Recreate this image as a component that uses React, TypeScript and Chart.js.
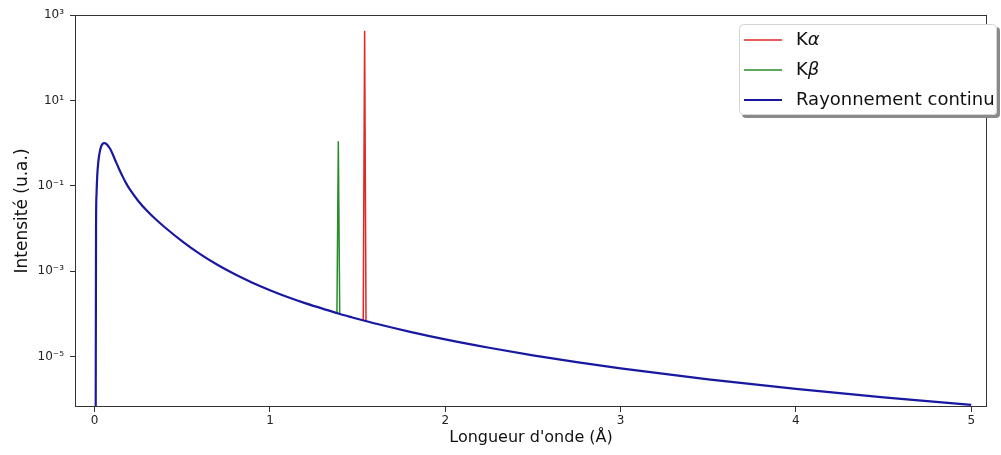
import React, { useEffect, useRef } from "react";
import { Chart, registerables } from "chart.js";

Chart.register(...registerables);

// ---- Data ----
const continuumWavelengths = [
  0.006, 0.008, 0.011, 0.015, 0.02, 0.025, 0.03, 0.035, 0.04, 0.045,
  0.05, 0.055, 0.06, 0.065, 0.07, 0.08, 0.09, 0.1, 0.12, 0.14,
  0.16, 0.18, 0.2, 0.25, 0.3, 0.35, 0.4, 0.5, 0.6, 0.7,
  0.8, 0.9, 1.0, 1.1, 1.2, 1.3, 1.39, 1.47, 1.54, 1.63,
  1.8, 2.0, 2.25, 2.5, 2.75, 3.0, 3.5, 4.0, 4.5, 5.0,
];
const continuumIntensity = [
  3e-7, 0.0101, 0.0668, 0.178, 0.329, 0.492, 0.648, 0.783, 0.886, 0.95,
  0.987, 1.0, 0.99, 0.967, 0.929, 0.829, 0.714, 0.585, 0.376, 0.244,
  0.164, 0.114, 0.0833, 0.0436, 0.0256, 0.0162, 0.0107, 0.005, 0.00254, 0.00141,
  8.46e-4, 5.38e-4, 3.59e-4, 2.49e-4, 1.79e-4, 1.33e-4, 1.02e-4, 8.26e-5, 6.92e-5, 5.56e-5,
  3.8e-5, 2.53e-5, 1.61e-5, 1.07e-5, 7.42e-6, 5.31e-6, 2.93e-6, 1.75e-6, 1.11e-6, 7.43e-7,
];
const kAlphaWavelengths = [1.532, 1.54, 1.548];
const kAlphaIntensity = [7.0e-5, 430, 6.85e-5];
const kBetaWavelengths = [1.382, 1.39, 1.398];
const kBetaIntensity = [1.04e-4, 1.1, 1.0e-4];

const seriesNames = ["Kα", "Kβ", "Rayonnement continu"];
const seriesColors = ["#e32626", "#2a8c2a", "#1818a0"];

const xTickValues = [0, 1, 2, 3, 4, 5];
const yTickValues = [1e-5, 1e-3, 1e-1, 1e1, 1e3];
const yTickLabels = ["10⁻⁵", "10⁻³", "10⁻¹", "10¹", "10³"];

const xTitle = "Longueur d'onde (Å)";
const yTitle = "Intensité (u.a.)";

const FONT = "'DejaVu Sans', sans-serif";

const toPoints = (xs: number[], ys: number[]) => xs.map((x, i) => ({ x, y: ys[i] }));

const frameLegendPlugin = {
  id: "frameLegend",
  afterDraw(chart: any) {
    const { ctx, chartArea: a } = chart;
    ctx.save();
    // full frame (spines)
    ctx.strokeStyle = "#333";
    ctx.lineWidth = 1;
    ctx.strokeRect(
      Math.round(a.left) + 0.5,
      Math.round(a.top) + 0.5,
      Math.round(a.right - a.left) - 1,
      Math.round(a.bottom - a.top) - 1
    );

    // legend box with shadow
    const bx = 739, by = 24, bw = 258, bh = 91, r = 4;
    const rr = (x: number, y: number, w: number, h: number) => {
      ctx.beginPath();
      if (ctx.roundRect) ctx.roundRect(x, y, w, h, r);
      else ctx.rect(x, y, w, h);
    };
    ctx.fillStyle = "#8a8a8a";
    rr(bx + 3, by + 3, bw, bh);
    ctx.fill();
    ctx.fillStyle = "#ffffff";
    rr(bx, by, bw, bh);
    ctx.fill();
    ctx.strokeStyle = "#d4d4d4";
    rr(bx + 0.5, by + 0.5, bw - 1, bh - 1);
    ctx.stroke();

    const rowsY = [40, 70, 100];
    ctx.textBaseline = "middle";
    ctx.textAlign = "left";
    seriesNames.forEach((name, i) => {
      const y = rowsY[i];
      ctx.strokeStyle = seriesColors[i];
      ctx.lineWidth = i === 2 ? 2 : 1.6;
      ctx.beginPath();
      ctx.moveTo(744, y);
      ctx.lineTo(782, y);
      ctx.stroke();
      ctx.fillStyle = "#111";
      if (name.length === 2 && name[0] === "K") {
        ctx.font = `18px ${FONT}`;
        ctx.fillText("K", 796, y);
        const w = ctx.measureText("K").width;
        ctx.font = `italic 18px ${FONT}`;
        ctx.fillText(name[1], 796 + w, y);
      } else {
        ctx.font = `18px ${FONT}`;
        ctx.fillText(name, 796, y);
      }
    });
    ctx.restore();
  },
};

export default function App() {
  const ref = useRef<HTMLCanvasElement>(null);

  useEffect(() => {
    const canvas = ref.current;
    if (!canvas) return;
    const chart = new Chart(canvas, {
      type: "line",
      data: {
        datasets: [
          {
            label: seriesNames[2],
            data: toPoints(continuumWavelengths, continuumIntensity),
            borderColor: seriesColors[2],
            borderWidth: 2.2,
            pointRadius: 0,
            cubicInterpolationMode: "monotone",
            fill: false,
          },
          {
            label: seriesNames[0],
            data: toPoints(kAlphaWavelengths, kAlphaIntensity),
            borderColor: seriesColors[0],
            borderWidth: 1.5,
            pointRadius: 0,
            tension: 0,
            fill: false,
          },
          {
            label: seriesNames[1],
            data: toPoints(kBetaWavelengths, kBetaIntensity),
            borderColor: seriesColors[1],
            borderWidth: 1.5,
            pointRadius: 0,
            tension: 0,
            fill: false,
          },
        ],
      },
      options: {
        responsive: false,
        maintainAspectRatio: false,
        animation: false,
        devicePixelRatio: 1,
        events: [],
        layout: { padding: { left: 0, top: 15, right: 14, bottom: 0 } },
        plugins: {
          legend: { display: false },
          tooltip: { enabled: false },
        },
        scales: {
          x: {
            type: "linear",
            min: -0.112,
            max: 5.09,
            bounds: "data",
            afterBuildTicks: (s: any) => {
              s.ticks = xTickValues.map((v) => ({ value: v }));
            },
            afterFit: (s: any) => {
              s.height = 48;
            },
            ticks: {
              autoSkip: false,
              maxRotation: 0,
              padding: 2,
              color: "#222",
              font: { family: FONT, size: 12 },
              callback: (v: any) => String(v),
            },
            grid: {
              display: true,
              drawOnChartArea: false,
              color: "#333",
              tickColor: "#333",
              tickLength: 5,
              tickWidth: 1,
            },
            border: { display: false },
            title: {
              display: true,
              text: xTitle,
              color: "#111",
              font: { family: FONT, size: 16 },
              padding: { top: 0, bottom: 8 },
            },
          },
          y: {
            type: "logarithmic",
            min: 6.6e-7,
            max: 1000,
            bounds: "data",
            afterBuildTicks: (s: any) => {
              s.ticks = yTickValues.map((v) => ({ value: v }));
            },
            afterFit: (s: any) => {
              s.width = 75;
            },
            ticks: {
              autoSkip: false,
              padding: 6,
              color: "#222",
              font: { family: FONT, size: 12 },
              callback: (v: any) => {
                const i = yTickValues.findIndex((t) => Math.abs(t - v) <= t * 1e-6);
                return i >= 0 ? yTickLabels[i] : "";
              },
            },
            grid: {
              display: true,
              drawOnChartArea: false,
              color: "#333",
              tickColor: "#333",
              tickLength: 5,
              tickWidth: 1,
            },
            border: { display: false },
            title: {
              display: true,
              text: yTitle,
              color: "#111",
              font: { family: FONT, size: 17 },
              padding: { top: 12, bottom: 0 },
            },
          },
        },
      },
      plugins: [frameLegendPlugin],
    } as any);
    return () => chart.destroy();
  }, []);

  return (
    <div
      style={{
        position: "absolute",
        left: 0,
        top: 0,
        width: 1001,
        height: 455,
        background: "#ffffff",
      }}
    >
      <canvas
        ref={ref}
        width={1001}
        height={455}
        style={{ display: "block", width: 1001, height: 455 }}
      />
    </div>
  );
}
